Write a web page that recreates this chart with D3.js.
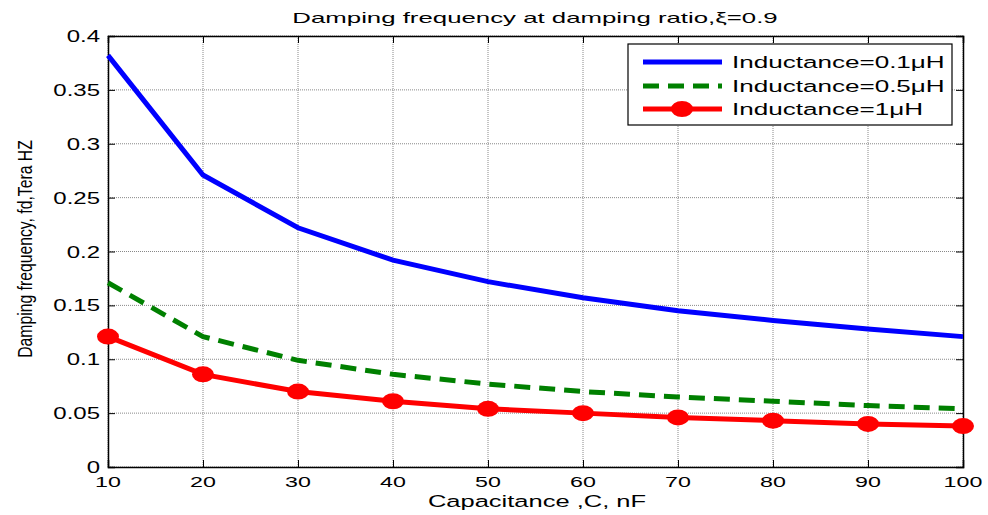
<!DOCTYPE html>
<html><head><meta charset="utf-8">
<script src="https://cdn.jsdelivr.net/npm/d3@7"></script>
<style>body{margin:0;background:#fff}svg{display:block}</style>
</head><body>
<svg id="c" width="988" height="515"></svg>
<script>
const capacitance = [10,20,30,40,50,60,70,80,90,100];
const ind01 = [0.382,0.271,0.222,0.192,0.172,0.157,0.145,0.136,0.128,0.121];
const ind05 = [0.171,0.121,0.099,0.086,0.077,0.070,0.065,0.061,0.057,0.054];
const ind1  = [0.121,0.086,0.070,0.061,0.054,0.050,0.046,0.043,0.040,0.038];
const xTicks = [10,20,30,40,50,60,70,80,90,100];
const yTicks = [0,0.05,0.1,0.15,0.2,0.25,0.3,0.35,0.4];
const yTickLabels = ["0","0.05","0.1","0.15","0.2","0.25","0.3","0.35","0.4"];
const seriesNames = ["Inductance=0.1\u03BCH","Inductance=0.5\u03BCH","Inductance=1\u03BCH"];
const titleText = "Damping frequency at damping ratio,\u03BE=0.9";
const xLabel = "Capacitance ,C, nF";
const yLabel = "Damping frequency, fd,Tera HZ";

const L=108,R=963,T=36,B=467;
const svg=d3.select("#c");
const x=d3.scaleLinear().domain([10,100]).range([L,R]);
const y=d3.scaleLinear().domain([0,0.4]).range([B,T]);
const font="Liberation Sans, Arial, sans-serif";

function stext(parent,tx,ty,str,size,sx,anchor,rot){
  return parent.append("text")
    .attr("transform",`translate(${tx},${ty})${rot?` rotate(${rot})`:""} scale(${sx},1)`)
    .attr("text-anchor",anchor||"start")
    .attr("font-family",font).attr("font-size",size).attr("fill","#000").text(str);
}

// grid
const g=svg.append("g");
g.selectAll(".vx").data(xTicks).enter().append("line")
 .attr("x1",d=>x(d)).attr("x2",d=>x(d)).attr("y1",T).attr("y2",B)
 .attr("stroke","#888").attr("stroke-width",1).attr("stroke-dasharray","1,1");
g.selectAll(".hy").data(yTicks).enter().append("line")
 .attr("y1",d=>y(d)).attr("y2",d=>y(d)).attr("x1",L).attr("x2",R)
 .attr("stroke","#888").attr("stroke-width",1).attr("stroke-dasharray","1,1");

// axes
const xa=svg.append("g").attr("transform",`translate(0,${B})`)
 .call(d3.axisBottom(x).tickValues(xTicks).tickSize(-7).tickFormat(""));
const xt=svg.append("g").attr("transform",`translate(0,${T})`)
 .call(d3.axisTop(x).tickValues(xTicks).tickSize(-7).tickFormat(""));
const ya=svg.append("g").attr("transform",`translate(${L},0)`)
 .call(d3.axisLeft(y).tickValues(yTicks).tickSize(-7).tickFormat(""));
const yr=svg.append("g").attr("transform",`translate(${R},0)`)
 .call(d3.axisRight(y).tickValues(yTicks).tickSize(-7).tickFormat(""));
[xa,xt,ya,yr].forEach(a=>{
 a.select(".domain").attr("stroke","#000").attr("stroke-width",1.5);
 a.selectAll(".tick line").attr("stroke","#000");
});

// tick labels
const tl=svg.append("g");
xTicks.forEach(v=>stext(tl,x(v),487,String(v),15.5,1.5,"middle"));
yTicks.forEach((v,i)=>stext(tl,100,y(v)+6,yTickLabels[i],16,1.5,"end"));

// lines
const line=d3.line().x((d,i)=>x(capacitance[i])).y(d=>y(d));
svg.append("path").datum(ind01).attr("d",line).attr("fill","none").attr("stroke","#0000ff").attr("stroke-width",5);
svg.append("path").datum(ind05).attr("d",line).attr("fill","none").attr("stroke","#008000").attr("stroke-width",5).attr("stroke-dasharray","16,9");
svg.append("path").datum(ind1).attr("d",line).attr("fill","none").attr("stroke","#ff0000").attr("stroke-width",5);
svg.selectAll(".mk").data(ind1).enter().append("ellipse")
 .attr("cx",(d,i)=>x(capacitance[i])).attr("cy",d=>y(d)).attr("rx",11).attr("ry",8).attr("fill","#ff0000");

// legend
const lg=svg.append("g");
lg.append("rect").attr("x",628).attr("y",44).attr("width",324).attr("height",81).attr("fill","#fff").attr("stroke","#000").attr("stroke-width",1.2);
const ly=[62,86,109];
lg.append("line").attr("x1",643).attr("x2",722).attr("y1",ly[0]).attr("y2",ly[0]).attr("stroke","#0000ff").attr("stroke-width",5);
lg.append("line").attr("x1",643).attr("x2",722).attr("y1",ly[1]).attr("y2",ly[1]).attr("stroke","#008000").attr("stroke-width",5).attr("stroke-dasharray","16,9");
lg.append("line").attr("x1",643).attr("x2",722).attr("y1",ly[2]).attr("y2",ly[2]).attr("stroke","#ff0000").attr("stroke-width",5);
lg.append("ellipse").attr("cx",682).attr("cy",ly[2]).attr("rx",11).attr("ry",8).attr("fill","#ff0000");
seriesNames.forEach((s,i)=>stext(lg,732,ly[i]+6,s,16.5,1.58,"start"));

// title and labels
stext(svg,535,23,titleText,15,1.72,"middle");
stext(svg,537,507,xLabel,17,1.5,"middle");
stext(svg,32,249,yLabel,21,0.75,"middle",-90);
</script>
</body></html>
